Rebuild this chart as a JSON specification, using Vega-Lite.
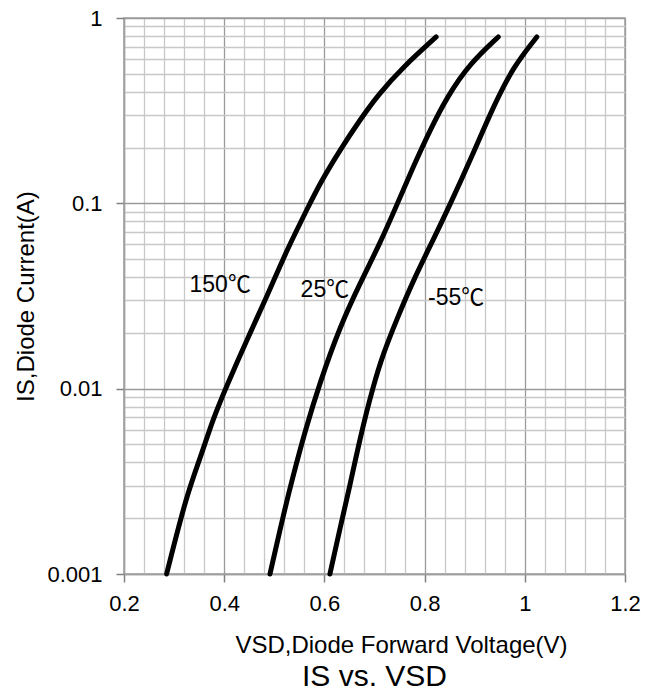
{
  "$schema": "https://vega.github.io/schema/vega-lite/v6.json",
  "width": 501,
  "height": 556,
  "autosize": {"type": "none"},
  "padding": {"left": 124, "top": 18, "right": 20, "bottom": 118},
  "background": "white",
  "config": {
    "view": {"stroke": "#a0a0a0", "strokeWidth": 1.5},
    "font": "Liberation Sans, Noto Sans CJK SC",
    "axis": {
      "labelFont": "Liberation Sans",
      "titleFont": "Liberation Sans",
      "labelColor": "#000",
      "titleColor": "#000",
      "titleFontWeight": "normal",
      "domainColor": "#a0a0a0",
      "domainWidth": 1.5,
      "tickColor": "#808080",
      "tickWidth": 1.5,
      "gridWidth": 1.3
    }
  },
  "title": {
    "text": "IS vs. VSD",
    "orient": "bottom",
    "anchor": "middle",
    "font": "Liberation Sans",
    "fontSize": 30,
    "fontWeight": "normal",
    "color": "#000",
    "offset": 5
  },
  "datasets": {
    "curves": [
      {"T": "150", "v": 0.285, "I": 0.001},
      {"T": "150", "v": 0.325, "I": 0.00267},
      {"T": "150", "v": 0.352, "I": 0.0042},
      {"T": "150", "v": 0.378, "I": 0.0069},
      {"T": "150", "v": 0.404, "I": 0.0102},
      {"T": "150", "v": 0.445, "I": 0.0183},
      {"T": "150", "v": 0.485, "I": 0.0313},
      {"T": "150", "v": 0.525, "I": 0.056},
      {"T": "150", "v": 0.568, "I": 0.096},
      {"T": "150", "v": 0.591, "I": 0.128},
      {"T": "150", "v": 0.631, "I": 0.194},
      {"T": "150", "v": 0.671, "I": 0.282},
      {"T": "150", "v": 0.707, "I": 0.385},
      {"T": "150", "v": 0.7575, "I": 0.546},
      {"T": "150", "v": 0.823, "I": 0.79},
      {"T": "25", "v": 0.4914, "I": 0.001},
      {"T": "25", "v": 0.518, "I": 0.00208},
      {"T": "25", "v": 0.538, "I": 0.00342},
      {"T": "25", "v": 0.561, "I": 0.00585},
      {"T": "25", "v": 0.591, "I": 0.0108},
      {"T": "25", "v": 0.631, "I": 0.0216},
      {"T": "25", "v": 0.671, "I": 0.037},
      {"T": "25", "v": 0.711, "I": 0.0608},
      {"T": "25", "v": 0.746, "I": 0.1},
      {"T": "25", "v": 0.7775, "I": 0.158},
      {"T": "25", "v": 0.811, "I": 0.249},
      {"T": "25", "v": 0.846, "I": 0.38},
      {"T": "25", "v": 0.8906, "I": 0.569},
      {"T": "25", "v": 0.947, "I": 0.79},
      {"T": "-55", "v": 0.611, "I": 0.001},
      {"T": "-55", "v": 0.631, "I": 0.00176},
      {"T": "-55", "v": 0.651, "I": 0.003},
      {"T": "-55", "v": 0.671, "I": 0.0054},
      {"T": "-55", "v": 0.6976, "I": 0.0104},
      {"T": "-55", "v": 0.7176, "I": 0.0155},
      {"T": "-55", "v": 0.744, "I": 0.0235},
      {"T": "-55", "v": 0.7775, "I": 0.0385},
      {"T": "-55", "v": 0.817, "I": 0.0634},
      {"T": "-55", "v": 0.852, "I": 0.1},
      {"T": "-55", "v": 0.897, "I": 0.186},
      {"T": "-55", "v": 0.937, "I": 0.332},
      {"T": "-55", "v": 0.977, "I": 0.546},
      {"T": "-55", "v": 1.024, "I": 0.79}
    ],
    "labels": [
      {"label": "150℃", "v": 0.392, "I": 0.0362},
      {"label": "25℃", "v": 0.601, "I": 0.034},
      {"label": "-55℃", "v": 0.863, "I": 0.0308}
    ]
  },
  "encoding": {
    "x": {
      "field": "v",
      "type": "quantitative",
      "scale": {"domain": [0.2, 1.2], "nice": false, "zero": false},
      "axis": {
        "title": "VSD,Diode Forward Voltage(V)",
        "titleFontSize": 24,
        "titleX": 277,
        "titleAlign": "center",
        "titlePadding": 19,
        "labelFontSize": 22,
        "labelPadding": 11,
        "values": [0.2,0.24,0.28,0.32,0.36,0.4,0.44,0.48,0.52,0.56,0.6,0.64,0.68,0.72,0.76,0.8,0.84,0.88,0.92,0.96,1,1.04,1.08,1.12,1.16,1.2],
        "labelExpr": "abs(datum.value*5-round(datum.value*5))<0.001 ? format(datum.value,'~g') : ''",
        "grid": true,
        "gridColor": {"condition": {"test": "abs(datum.value*5-round(datum.value*5))<0.001", "value": "#9a9a9a"}, "value": "#c8c8c8"},
        "tickSize": {"condition": {"test": "abs(datum.value*5-round(datum.value*5))<0.001", "value": 8}, "value": 0},
        "labelOverlap": false,
        "labelFlush": false
      }
    },
    "y": {
      "field": "I",
      "type": "quantitative",
      "scale": {"type": "log", "domain": [0.001, 1], "nice": false},
      "axis": {
        "title": "IS,Diode Current(A)",
        "titleFontSize": 24,
        "titlePadding": 8,
        "labelFontSize": 22,
        "labelPadding": 14,
        "values": [0.001,0.002,0.003,0.004,0.005,0.006,0.007,0.008,0.009,0.01,0.02,0.03,0.04,0.05,0.06,0.07,0.08,0.09,0.1,0.2,0.3,0.4,0.5,0.6,0.7,0.8,0.9,1],
        "labelExpr": "abs(log(datum.value)/LN10-round(log(datum.value)/LN10))<0.01 ? format(datum.value,'~g') : ''",
        "grid": true,
        "gridColor": {"condition": {"test": "abs(log(datum.value)/LN10-round(log(datum.value)/LN10))<0.01", "value": "#9a9a9a"}, "value": "#c8c8c8"},
        "tickSize": {"condition": {"test": "abs(log(datum.value)/LN10-round(log(datum.value)/LN10))<0.01", "value": 8}, "value": 0},
        "labelOverlap": false,
        "labelFlush": false
      }
    }
  },
  "layer": [
    {
      "data": {"name": "curves"},
      "mark": {"type": "line", "color": "#000", "strokeWidth": 5, "strokeCap": "round", "interpolate": "basis"},
      "encoding": {
        "detail": {"field": "T"},
        "order": {"field": "v", "type": "quantitative"}
      }
    },
    {
      "data": {"name": "labels"},
      "mark": {"type": "text", "fontSize": 23, "color": "#000", "font": "Liberation Sans, Noto Sans CJK SC", "align": "center", "baseline": "middle"},
      "encoding": {
        "text": {"field": "label"}
      }
    }
  ]
}
